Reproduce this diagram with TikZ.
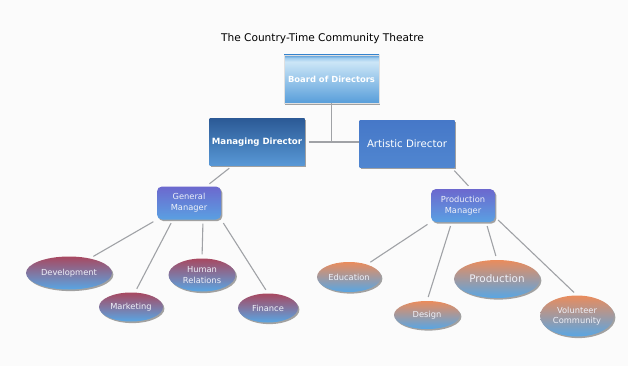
\documentclass[tikz,border=0pt]{standalone}
\usepackage{fontspec}
\setmainfont{DejaVu Sans}
\usepackage{tikz}
\usetikzlibrary{positioning, shapes.geometric, shadows}

\definecolor{paper}{RGB}{251,251,251}
\definecolor{linkgray}{RGB}{160,162,166}
\definecolor{boardtop}{RGB}{80,150,214}
\definecolor{boardlight}{RGB}{204,230,247}
\definecolor{boardmid}{RGB}{160,204,238}
\definecolor{boardbot}{RGB}{88,158,218}
\definecolor{mdtop}{RGB}{44,90,150}
\definecolor{mdbot}{RGB}{88,152,214}
\definecolor{adtop}{RGB}{70,120,200}
\definecolor{adbot}{RGB}{80,134,208}
\definecolor{mgrtop}{RGB}{108,104,206}
\definecolor{mgrbot}{RGB}{90,160,226}
\definecolor{redtop}{RGB}{168,72,96}
\definecolor{orangetop}{RGB}{234,140,92}
\definecolor{leafbot}{RGB}{88,166,228}
\definecolor{softwhite}{RGB}{238,240,248}

\pgfdeclareverticalshading{boardshade}{100bp}{color(0bp)=(boardbot); color(25bp)=(boardbot); color(68bp)=(boardlight); color(72bp)=(boardmid); color(75bp)=(boardtop); color(100bp)=(boardtop)}

\tikzset{
	every text node part/.style= {
		align=center
	},
	shade box/.style= {
		drop shadow={shadow xshift=1.4pt, shadow yshift=-1.6pt, fill=black!60, opacity=.6}
	},
	chief/.style= {
		rectangle, shade box, shading=boardshade,
		draw=black!12, line width=.4pt,
		minimum width=95pt, minimum height=48pt, inner sep=0pt,
		text=white, font=\bfseries\fontsize{8.4}{10}\selectfont
	},
	director/.style= {
		rectangle, shade box,
		minimum width=95pt, minimum height=47pt, inner sep=0pt,
		text=white
	},
	manager/.style= {
		rectangle, rounded corners=5pt, shade box,
		top color=mgrtop, bottom color=mgrbot,
		minimum width=64pt, minimum height=33pt, inner sep=0pt,
		text=softwhite, font=\fontsize{8.3}{11}\selectfont
	},
	leaf/.style= {
		ellipse, shade box, inner sep=0pt,
		text=softwhite, font=\fontsize{8.3}{10.5}\selectfont
	},
	money/.style= {
		leaf, top color=redtop, bottom color=leafbot
	},
	stage/.style= {
		leaf, top color=orangetop, bottom color=leafbot
	},
	link/.style= {
		draw=linkgray, line width=1.1pt,
		shorten <=4pt, shorten >=4pt
	}
}

\begin{document}
\begin{tikzpicture}[x=1pt, y=-1pt]

	\fill[paper] (0,0) rectangle (628,366);

	\node (board)[chief] at (331.5,79) {Board of Directors};
	\node (title)[above=8pt of board, xshift=-9pt, font=\fontsize{10.6}{12}\selectfont]{The Country-Time Community Theatre};

	\node (md)[director, top color=mdtop, bottom color=mdbot, font=\bfseries\fontsize{8.6}{10}\selectfont] at (257,142) {Managing Director};
	\node (ad)[director, top color=adtop, bottom color=adbot, font=\fontsize{10.2}{12}\selectfont] at (407,144) {Artistic Director};

	\node (gm)[manager] at (189,203) {General\\Manager};
	\node (pm)[manager] at (463,205.5) {Production\\Manager};

	\foreach \name/\x/\y/\w/\h/\txt in {dev/69/273/86/33/Development, mkt/131/307/64/29/Marketing, hr/202/275/67/33/{Human\\Relations}, fin/268/308/60/29/Finance}
	{
		\node (\name)[money, minimum width=\w pt, minimum height=\h pt] at (\x,\y) {\txt};
	}

	\foreach \name/\x/\y/\w/\h/\txt in {edu/349/277/64/30/Education, des/427/315/66/28/Design, vol/577/316/74/41/{Volunteer\\Community}}
	{
		\node (\name)[stage, minimum width=\w pt, minimum height=\h pt] at (\x,\y) {\txt};
	}
	\node (prod)[stage, minimum width=86pt, minimum height=38pt, font=\fontsize{10.4}{12}\selectfont] at (497,279) {Production};

	\coordinate (hub) at (board.south |- md.east);
	\draw[link, shorten <=0pt, shorten >=0pt] (board) -- (hub);
	\draw[link, shorten >=0pt] (md.east) -- (md.east -| ad.west);

	\foreach \a/\b in {md.224/gm.44, gm.south west/dev.35, gm.226/mkt.75, gm.310/hr.north, gm.south east/fin.north, ad.332/pm.64, pm.south west/edu.35, pm.236/des.north, pm.324/prod.north, pm.340/vol.north}
	{
		\draw[link] (\a) -- (\b);
	}

\end{tikzpicture}
\end{document}
